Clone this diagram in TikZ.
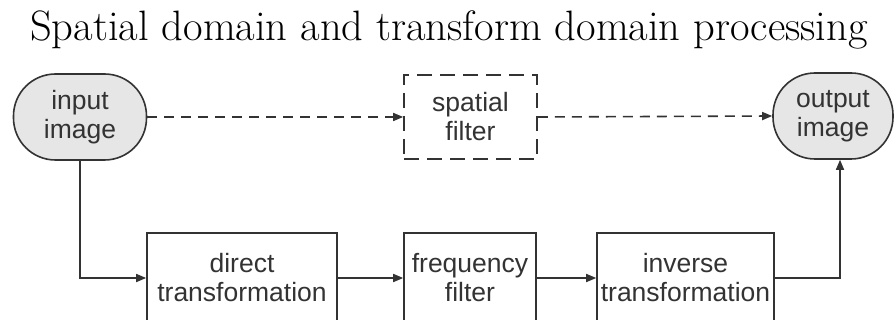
\documentclass[tikz,border=0pt]{standalone}
\usepackage{fontspec}
\setsansfont{Liberation Sans}
\usetikzlibrary{arrows.meta,positioning}
\definecolor{linec}{HTML}{333333}
\definecolor{termfill}{HTML}{E6E6E6}
\tikzset{
  lbl/.style={font=\sffamily\fontsize{26.5}{29}\selectfont, align=center, text=linec, inner sep=0pt},
  term/.style={lbl, draw=linec, line width=1.6pt, fill=termfill, rounded corners=42pt},
  blk/.style={lbl, draw=linec, line width=1.6pt},
  dblk/.style={lbl, draw=linec, line width=1.6pt, dash pattern=on 15pt off 8pt},
  conn/.style={draw=linec, line width=1.6pt, -{Triangle[length=10pt,width=8pt]}},
  dconn/.style={conn, dash pattern=on 10pt off 7pt},
}
\begin{document}
\begin{tikzpicture}[x=1pt,y=-1pt]
\useasboundingbox (0,0) rectangle (896,320);
\clip (0,0) rectangle (896,320);
\node[font=\fontsize{42.5}{46}\selectfont, inner sep=0pt, anchor=base] (title) at (449,41) {Spatial domain and transform domain processing};
\node[term, minimum width=133pt, minimum height=86pt] (in) at (80,117) {input\\image};
\node[term, minimum width=120pt, minimum height=86pt] (out) at (833,116) {output\\image};
\node[dblk, minimum width=133pt, minimum height=84pt] (sp) at (470.5,117) {spatial\\filter};
\node[blk, minimum width=190pt, minimum height=90pt] (dir) at (242,278) {direct\\transformation};
\node[blk, minimum width=132pt, minimum height=90pt] (freq) at (470,278) {frequency\\filter};
\node[blk, minimum width=177pt, minimum height=90pt] (inv) at (685.5,278) {inverse\\transformation};
\draw[dconn] (in.east) -- (sp.west);
\draw[dconn] (sp.east) -- (out.west);
\draw[conn] (in.south) |- (dir.west);
\draw[conn] (dir.east) -- (freq.west);
\draw[conn] (freq.east) -- (inv.west);
\draw[conn] (inv.east) -| ([xshift=7pt]out.south);
\end{tikzpicture}
\end{document}
